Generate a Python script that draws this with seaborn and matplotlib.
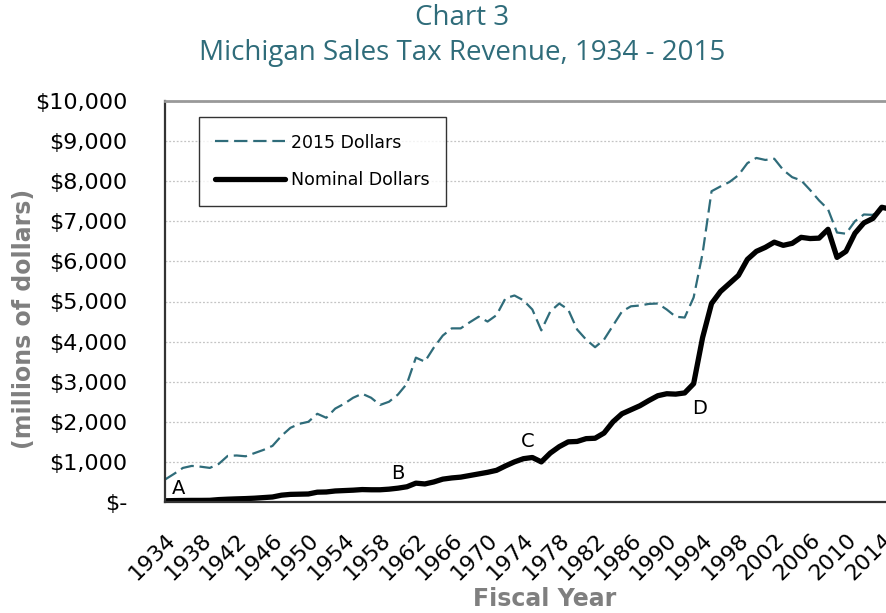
import matplotlib
matplotlib.use("Agg")
import matplotlib.pyplot as plt
import pandas as pd
import seaborn as sns

# Data (millions of dollars, fiscal years 1934-2015)
years = list(range(1934, 2016))
real_2015 = [560, 700, 850, 900, 880, 850, 950, 1150, 1160, 1140,
             1220, 1300, 1400, 1650, 1850, 1950, 2000, 2200, 2100, 2330,
             2450, 2600, 2700, 2600, 2420, 2500, 2680, 2950, 3600, 3500,
             3850, 4150, 4330, 4330, 4480, 4620, 4500, 4660, 5080, 5150,
             5030, 4800, 4280, 4750, 4950, 4800, 4300, 4050, 3860, 4050,
             4400, 4750, 4880, 4900, 4940, 4950, 4800, 4620, 4600, 5100,
             6200, 7750, 7870, 7980, 8150, 8450, 8580, 8530, 8560, 8280,
             8100, 8020, 7780, 7520, 7300, 6720, 6690, 7000, 7170, 7160,
             7360, 7330]
nominal = [30, 35, 38, 40, 40, 42, 60, 70, 78, 85,
           95, 110, 125, 170, 190, 195, 200, 245, 250, 275,
           285, 295, 310, 305, 305, 320, 345, 380, 470, 450,
           500, 570, 600, 620, 660, 700, 740, 790, 900, 1000,
           1080, 1110, 1000, 1220, 1380, 1500, 1510, 1580, 1590, 1720,
           2000, 2200, 2300, 2400, 2530, 2650, 2700, 2690, 2720, 2950,
           4100, 4950, 5250, 5450, 5650, 6050, 6250, 6350, 6480, 6400,
           6450, 6600, 6570, 6580, 6800, 6100, 6250, 6700, 6960, 7070,
           7350, 7300]

y_ticks = [0, 1000, 2000, 3000, 4000, 5000, 6000, 7000, 8000, 9000, 10000]
y_labels = ["$-", "$1,000", "$2,000", "$3,000", "$4,000", "$5,000",
            "$6,000", "$7,000", "$8,000", "$9,000", "$10,000"]
x_ticks = list(range(1934, 2015, 4))

# point labels
notes = ["A", "B", "C", "D"]
note_x = [1935.5, 1960.0, 1974.5, 1993.7]
note_y = [330, 700, 1520, 2320]

df = pd.DataFrame({"year": years, "2015 Dollars": real_2015, "Nominal Dollars": nominal})

sns.set_style("white")
plt.rcParams["font.family"] = ["DejaVu Sans"]
plt.rcParams["text.color"] = "black"

teal = "#2f6c7a"
fig = plt.figure(figsize=(8.86, 6.13), dpi=100)
ax = fig.add_axes([165/886, 1 - 502/613, 721/886, 401/613])

sns.lineplot(data=df, x="year", y="2015 Dollars", ax=ax, color=teal, lw=1.6,
             linestyle=(0, (6, 2.6)), label="2015 Dollars")
sns.lineplot(data=df, x="year", y="Nominal Dollars", ax=ax, color="black", lw=3.8,
             label="Nominal Dollars", solid_capstyle="round")

ax.set_xlim(1934, 2014.47)
ax.set_ylim(0, 10000)
ax.set_yticks(y_ticks)
ax.set_yticklabels(y_labels, fontsize=16)
ax.set_xticks(x_ticks)
ax.set_xticklabels([str(x) for x in x_ticks], fontsize=16, rotation=45,
                   ha="right", va="top", rotation_mode="anchor")
ax.tick_params(axis="y", direction="inout", length=18, width=1.2, color="#333333",
               pad=18, labelcolor="black")
ax.tick_params(axis="x", direction="inout", length=16, width=1.2, color="#333333",
               pad=12, labelcolor="black")
ax.yaxis.grid(True, color="#c4c4c4", linestyle=(0, (1.5, 1.5)), lw=0.9)
ax.set_axisbelow(True)

for s in ["left", "bottom"]:
    ax.spines[s].set_color("#333333")
    ax.spines[s].set_linewidth(1.6)
ax.spines["top"].set_color("#999999")
ax.spines["top"].set_linewidth(2)
ax.spines["right"].set_visible(False)

ax.set_xlabel("Fiscal Year", fontsize=17, fontweight="bold", color="#7f7f7f", va="center")
ax.xaxis.set_label_coords((545 - 165) / 721, (502 - 599) / 401)
ax.set_ylabel("(millions of dollars)", fontsize=17, fontweight="bold", color="#7f7f7f", va="center")
ax.yaxis.set_label_coords((24 - 165) / 721, (502 - 319) / 401)

for t, x, y in zip(notes, note_x, note_y):
    ax.text(x, y, t, fontsize=14, ha="center", va="center", color="black")

leg = ax.legend(loc="upper left", bbox_to_anchor=(0.047, 0.96), fontsize=12.5,
                frameon=True, fancybox=False, edgecolor="black", handlelength=4.0,
                labelspacing=1.15, borderpad=0.95, handletextpad=0.35, borderaxespad=0)
leg.get_frame().set_linewidth(1.0)
for txt in leg.get_texts():
    txt.set_color("black")

fig.text(462/886, 1 - 18/613, "Chart 3", fontsize=20, color=teal,
         ha="center", va="center", family=["Open Sans", "DejaVu Sans"])
fig.text(462/886, 1 - 53/613, "Michigan Sales Tax Revenue, 1934 - 2015", fontsize=20,
         color=teal, ha="center", va="center", family=["Open Sans", "DejaVu Sans"])

fig.savefig("out.png", dpi=100)
